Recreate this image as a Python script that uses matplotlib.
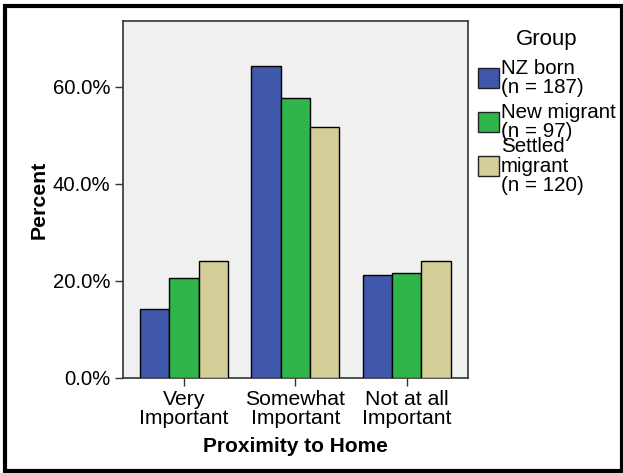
import numpy as np
import matplotlib.pyplot as plt
from matplotlib.patches import Rectangle

plt.rcParams['font.family'] = ['Liberation Sans', 'DejaVu Sans']

# donnees
categories = ['Very\nImportant', 'Somewhat\nImportant', 'Not at all\nImportant']
groupes = ['NZ born\n(n = 187)', 'New migrant\n(n = 97)', 'Settled\nmigrant\n(n = 120)']
nz_born = [14.3, 64.2, 21.3]
new_migrant = [20.6, 57.7, 21.6]
settled_migrant = [24.0, 51.7, 24.0]
couleurs = ['#3f58ab', '#2fb54a', '#d4cf98']

series = [nz_born, new_migrant, settled_migrant]

fig = plt.figure(figsize=(6.23, 4.73), dpi=100)
ax = fig.add_axes([0.197, 0.201, 0.554, 0.755])
ax.set_facecolor('#f0f0f0')

x = np.arange(len(categories))
largeur = 0.264
for i, (valeurs, c) in enumerate(zip(series, couleurs)):
    ax.bar(x + (i - 1) * largeur, valeurs, width=largeur, color=c,
           edgecolor='black', linewidth=1, zorder=3)

ax.set_xlim(-0.55, 2.55)
ax.set_ylim(0, 73.6)
ax.set_yticks([0, 20, 40, 60])
ax.set_yticklabels(['0.0%', '20.0%', '40.0%', '60.0%'], fontsize=14.6)
ax.set_xticks(x)
ax.set_xticklabels(categories, fontsize=15.2, linespacing=1.0)
ax.tick_params(axis='both', direction='out', length=6, width=1, color='#333333', pad=3)
for s in ax.spines.values():
    s.set_color('#333333')
    s.set_linewidth(1.2)

ax.set_xlabel('Proximity to Home', fontsize=15, fontweight='bold', labelpad=6)
ax.set_ylabel('Percent', fontsize=15.3, fontweight='bold', labelpad=3)

# legende dessinee a la main (pastille centree sur le texte)
W, H = 623, 473
fig.text(547 / W, 1 - 40 / H, 'Group', fontsize=16, ha='center', va='center')
centres = [78, 122, 166]
for lab, c, yc in zip(groupes, couleurs, centres):
    fig.patches.append(Rectangle((478 / W, 1 - (yc + 10) / H), 21 / W, 20 / H,
                                 facecolor=c, edgecolor='#222222', linewidth=1,
                                 transform=fig.transFigure, figure=fig))
    fig.text(501 / W, 1 - yc / H, lab, fontsize=14.8, ha='left', va='center',
             linespacing=1.05)

# cadre noir autour de la figure
fig.patches.append(Rectangle((5 / W, 2 / H), 617 / W, 465 / H, fill=False,
                             edgecolor='black', linewidth=3,
                             transform=fig.transFigure, figure=fig))

plt.savefig('out.png', dpi=100)
